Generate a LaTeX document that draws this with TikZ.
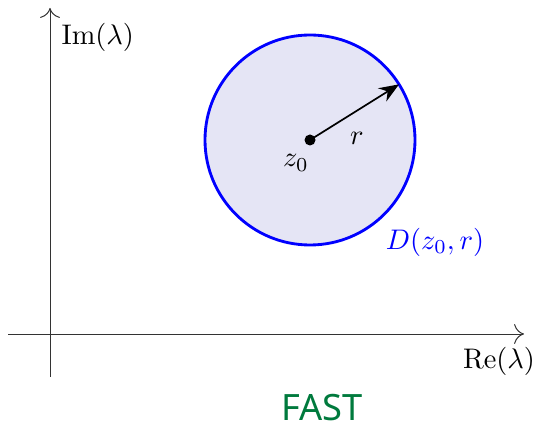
\documentclass[tikz,border=0pt]{standalone}
\usepackage{fontspec}
\newfontfamily\fastfont{Noto Sans}
\usetikzlibrary{arrows.meta}
\definecolor{fastgreen}{RGB}{0,122,61}
\definecolor{discfill}{RGB}{229,229,245}
\begin{document}
\begin{tikzpicture}[x=0.353pt,y=-0.353pt,
  axis/.style={line width=0.35pt,draw=black!80,-{To[length=3.5pt,width=7pt]}},
  lbl/.style={inner sep=0pt,font=\fontsize{10}{12}\selectfont}]
\useasboundingbox (0,0) rectangle (536,430);
% axes
\coordinate (xs) at (8,334);
\coordinate (xe) at (524,334);
\coordinate (ys) at (50,377);
\coordinate (ye) at (50,8);
\draw[axis] (xs) -- (xe);
\draw[axis] (ys) -- (ye);
% disc
\coordinate (c) at (310,140);
\draw[blue,line width=1pt,fill=discfill] (c) circle[radius=105];
\fill (c) circle[radius=5.5];
\coordinate (tip) at ([shift={(-32:105)}]c);
\draw[line width=0.6pt,-{Stealth[length=7pt,width=5.5pt]}] (c) -- (tip);
% labels
\node[lbl,anchor=west] (im) at (61,37) {$\mathrm{Im}(\lambda)$};
\node[lbl] (re) at (499,361) {$\mathrm{Re}(\lambda)$};
\node[lbl,blue] (d) at (435,242) {$D(z_0,r)$};
\node[lbl] (z) at (296,163) {$z_0$};
\node[lbl] (r) at (357,138) {$r$};
\node[inner sep=0pt,anchor=base,text=fastgreen,font=\fastfont\fontsize{12.8}{14}\selectfont] (fast) at (322,421) {FAST};
\end{tikzpicture}
\end{document}
